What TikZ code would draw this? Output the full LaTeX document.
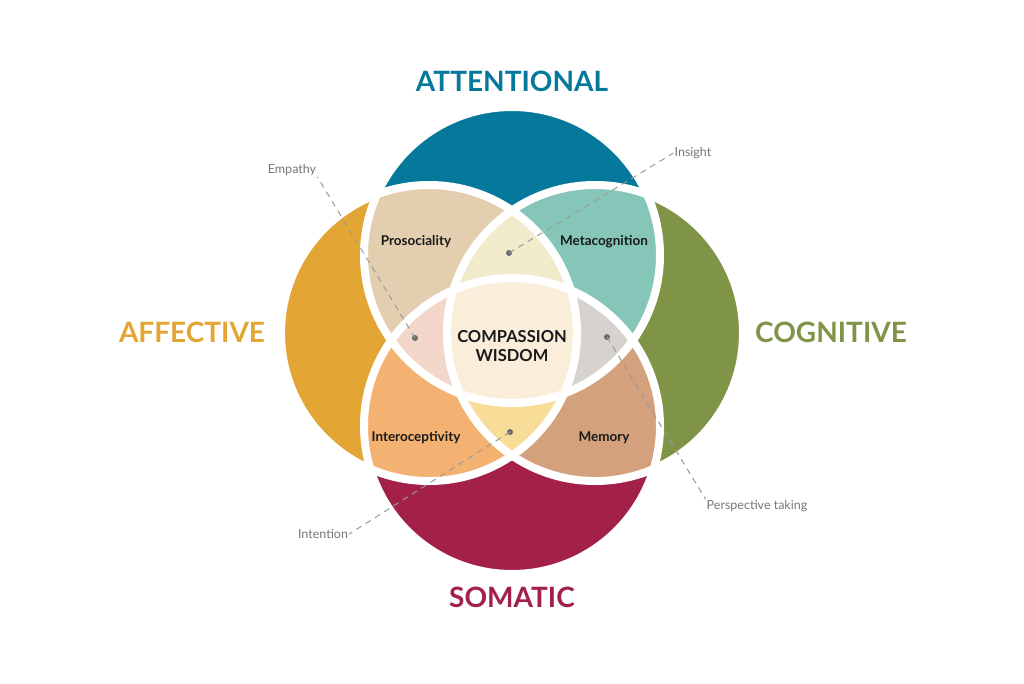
\documentclass[tikz,border=0pt]{standalone}
\usepackage{fontspec}
\setmainfont{Lato}
\definecolor{cTeal}{HTML}{05799B}
\definecolor{cOrange}{HTML}{E3A635}
\definecolor{cOlive}{HTML}{7F9446}
\definecolor{cCrimson}{HTML}{A32049}
\definecolor{cProso}{HTML}{E3CFAF}
\definecolor{cMeta}{HTML}{85C6B8}
\definecolor{cIntero}{HTML}{F3B172}
\definecolor{cMemory}{HTML}{D3A17C}
\definecolor{cTopLens}{HTML}{F1EBCB}
\definecolor{cLeftLens}{HTML}{F2D6C9}
\definecolor{cRightLens}{HTML}{D6D2CE}
\definecolor{cBotLens}{HTML}{F7DD98}
\definecolor{cCenter}{HTML}{FAEEDB}
\definecolor{cGray}{HTML}{76777A}
\definecolor{cLine}{HTML}{9A9A9A}
\definecolor{cDot}{HTML}{6A6A6A}
\definecolor{cInk}{HTML}{1A1A1A}
\def\Tc{(512,255) circle[radius=148pt]}
\def\Bc{(512,426) circle[radius=148pt]}
\def\Lc{(429,333) circle[radius=148pt]}
\def\Rc{(595,333) circle[radius=148pt]}
\tikzset{
  vennline/.style={draw=white, line width=8pt},
  titletext/.style={font=\bfseries\fontsize{28}{32}\selectfont},
  regiontext/.style={font=\bfseries\fontsize{13.5}{16}\selectfont, text=cInk},
  centertext/.style={font=\bfseries\fontsize{16.5}{19.5}\selectfont, text=cInk, align=center},
  notetext/.style={font=\fontsize{12.5}{14}\selectfont, text=cGray, inner sep=1pt},
  leader/.style={draw=cLine, dash pattern=on 6pt off 5pt, line width=1pt},
  dotmark/.style={circle, fill=cDot, inner sep=0pt, minimum size=6pt}
}
\begin{document}
\begin{tikzpicture}[x=1pt,y=-1pt]
\fill[white] (0,0) rectangle (1024,683);
\useasboundingbox (0,0) rectangle (1024,683);
% single circles
\fill[cTeal] \Tc;
\fill[cCrimson] \Bc;
\fill[cOrange] \Lc;
\fill[cOlive] \Rc;
% pairs
\begin{scope}\clip \Tc; \fill[cProso] \Lc; \fill[cMeta] \Rc; \end{scope}
\begin{scope}\clip \Bc; \fill[cIntero] \Lc; \fill[cMemory] \Rc; \end{scope}
% triples
\begin{scope}\clip \Lc; \clip \Rc; \fill[cTopLens] \Tc; \fill[cBotLens] \Bc; \end{scope}
\begin{scope}\clip \Tc; \clip \Bc; \fill[cLeftLens] \Lc; \fill[cRightLens] \Rc; \end{scope}
% all four
\begin{scope}\clip \Tc; \clip \Bc; \clip \Lc; \fill[cCenter] \Rc; \end{scope}
% white outlines
\draw[vennline] \Tc;
\draw[vennline] \Bc;
\draw[vennline] \Lc;
\draw[vennline] \Rc;
% titles
\node[titletext, text=cTeal] (attn) at (512,81) {ATTENTIONAL};
\node[titletext, text=cOrange] (aff) at (192,332) {AFFECTIVE};
\node[titletext, text=cOlive] (cog) at (831,332) {COGNITIVE};
\node[titletext, text=cCrimson] (som) at (512,597) {SOMATIC};
% region labels
\node[regiontext] (proso) at (416,242) {Prosociality};
\node[regiontext] (meta) at (604,242) {Metacognition};
\node[regiontext] (intero) at (416,438) {Interoceptivity};
\node[regiontext] (mem) at (604,438) {Memory};
\node[centertext] (center) at (512,346) {COMPASSION\\WISDOM};
% notes
\node[notetext] (empathy) at (292,170) {Empathy};
\node[notetext] (insight) at (693,153) {Insight};
\node[notetext] (intention) at (323,534) {Intention};
\node[notetext] (persp) at (757,506) {Perspective taking};
% dots
\node[dotmark] (dE) at (415,338) {};
\node[dotmark] (dI) at (509,253) {};
\node[dotmark] (dN) at (510,432) {};
\node[dotmark] (dP) at (607,337) {};
% leaders
\draw[leader] (dE.center) -- (empathy.south east);
\draw[leader] (dI.center) -- (insight.west);
\draw[leader] (dN.center) -- (intention.east);
\draw[leader] (dP.center) -- (persp.north west);
\end{tikzpicture}
\end{document}
